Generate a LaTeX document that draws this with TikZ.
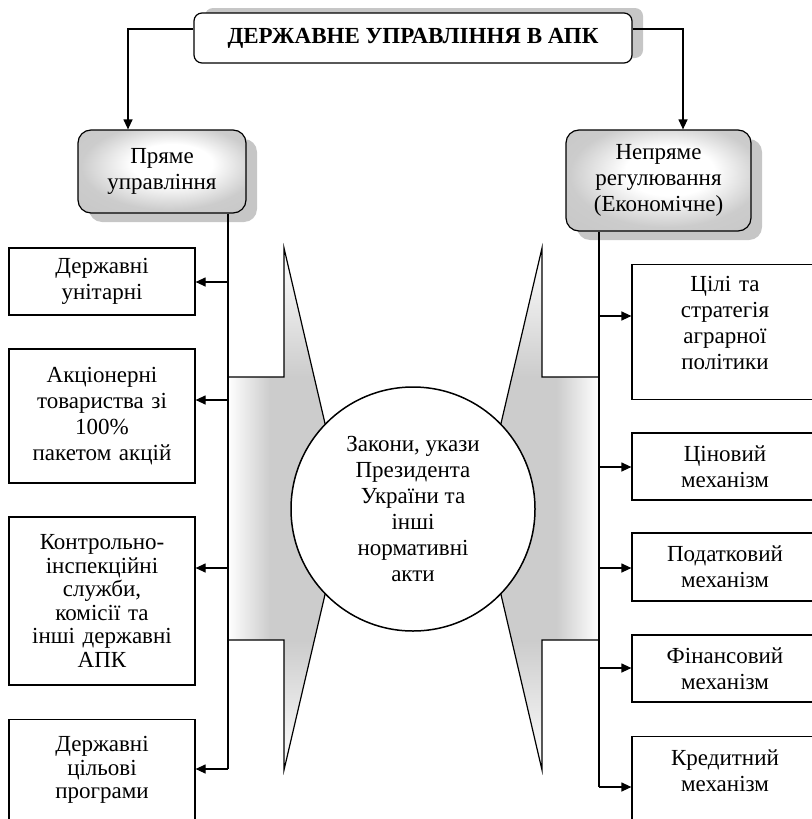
\documentclass[tikz,border=0pt]{standalone}
\usepackage{fontspec}
\setmainfont{Liberation Serif}
\usetikzlibrary{arrows.meta,shadows}

\pgfdeclarehorizontalshading{bandleft}{100bp}{color(0bp)=(white); color(25bp)=(white); color(43bp)=(gray!40); color(100bp)=(gray!40)}
\pgfdeclarehorizontalshading{bandright}{100bp}{color(0bp)=(gray!40); color(57bp)=(gray!40); color(75bp)=(white); color(100bp)=(white)}
\pgfdeclareradialshading{headshade}{\pgfpoint{4bp}{6bp}}{color(0bp)=(white); color(12bp)=(white); color(26bp)=(gray!40); color(50bp)=(gray!48)}

\tikzset{
  txt/.style={font=\fontsize{11.5}{13}\selectfont, align=center},
  tighttxt/.style={font=\fontsize{11.5}{11.8}\selectfont},
  leafbox/.style={txt, draw, fill=white, text width=85pt, inner xsep=4pt, inner ysep=2pt},
  headbox/.style={txt, draw, rounded corners=6.5pt, shading=headshade,
    drop shadow={shadow xshift=5.5pt, shadow yshift=-4.5pt, fill=gray!45, opacity=1}},
  titlebox/.style={draw, fill=white, rounded corners=4pt, font=\fontsize{11.5}{13}\selectfont\bfseries,
    minimum width=219pt, minimum height=25pt,
    drop shadow={shadow xshift=5.5pt, shadow yshift=2.5pt, fill=gray!45, opacity=1}},
  lawcircle/.style={txt, circle, draw, fill=white, line width=0.75pt, minimum size=122pt, inner sep=0pt},
  arr/.style={-{Triangle[length=5pt,width=4.5pt]}},
}

\begin{document}
\begin{tikzpicture}[x=0.5pt, y=-0.5pt, line width=0.6pt]
\useasboundingbox (0,0) rectangle (811,819);

% central shape, left half
\begin{scope}
\clip (228,377) -- (284,377) -- (284,248) -- (345,509) -- (284,770) -- (284,640) -- (228,640) -- cycle;
\shade[shading=bandleft] (228,377) rectangle (345,640);
\shade[top color=white, bottom color=gray!40] (284,248) rectangle (345,377);
\shade[top color=gray!40, bottom color=white] (284,640) rectangle (345,770);
\end{scope}
\draw (228,377) -- (284,377) -- (284,248) -- (345,509) -- (284,770) -- (284,640) -- (228,640);

% central shape, right half
\begin{scope}
\clip (599,377) -- (542,377) -- (542,248) -- (481,509) -- (542,770) -- (542,640) -- (599,640) -- cycle;
\shade[shading=bandright] (481,377) rectangle (599,640);
\shade[top color=white, bottom color=gray!40] (481,248) rectangle (542,377);
\shade[top color=gray!40, bottom color=white] (481,640) rectangle (542,770);
\end{scope}
\draw (599,377) -- (542,377) -- (542,248) -- (481,509) -- (542,770) -- (542,640) -- (599,640);

\node[lawcircle] (law) at (413,509) {Закони, укази\\Президента\\України та\\інші\\нормативні\\акти};

% title and the two branches
\node[titlebox] (apk) at (413,38) {ДЕРЖАВНЕ УПРАВЛІННЯ В АПК};
\node[headbox, minimum width=84pt, minimum height=41.5pt] (pr) at (162,171.5) {Пряме\\управління};
\node[headbox, minimum width=92.5pt, minimum height=50.5pt] (np) at (658.5,180.5) {Непряме\\регулювання\\(Економічне)};

% left boxes
\node[leafbox, minimum height=33.5pt] (l1) at (102,281.5) {Державні\\унітарні};
\node[leafbox, minimum height=67pt] (l2) at (102,416) {Акціонерні\\товариства зі\\100\%\\пакетом акцій};
\node[leafbox, tighttxt, minimum height=84pt] (l3) at (102,601) {Контрольно-\\інспекційні\\служби,\\комісії та\\інші державні\\АПК};
\node[leafbox, tighttxt, anchor=north, inner ysep=8.4pt, text depth=50pt] (l4) at (102,719) {Державні\\цільові\\програми};

% right boxes
\node[leafbox, anchor=north, inner ysep=6pt, text depth=47.8pt] (r1) at (725,264) {Цілі та\\стратегія\\аграрної\\політики};
\node[leafbox, minimum height=33.5pt] (r2) at (725,466.5) {Ціновий\\механізм};
\node[leafbox, minimum height=34pt] (r3) at (725,567) {Податковий\\механізм};
\node[leafbox, minimum height=33.5pt] (r4) at (725,668.5) {Фінансовий\\механізм};
\node[leafbox, anchor=north, inner ysep=6.6pt, text depth=50pt] (r5) at (725,736) {Кредитний\\механізм};

% connectors
\draw[arr] ([yshift=4.5pt]apk.west) -| ([xshift=-17pt]pr.north);
\draw[arr] ([yshift=4.5pt]apk.east) -| ([xshift=12.25pt]np.north);

\coordinate (ls1) at (228,282);
\coordinate (ls2) at (228,400);
\coordinate (ls3) at (228,568);
\coordinate (ls4) at (228,769);
\draw (pr.south -| ls1) -- (ls4);
\draw[arr] (ls1) -- (ls1 -| l1.east);
\draw[arr] (ls2) -- (ls2 -| l2.east);
\draw[arr] (ls3) -- (ls3 -| l3.east);
\draw[arr] (ls4) -- (ls4 -| l4.east);

\coordinate (rs1) at (599,316);
\coordinate (rs2) at (599,467);
\coordinate (rs3) at (599,568);
\coordinate (rs4) at (599,668);
\coordinate (rs5) at (599,787);
\draw (np.south -| rs1) -- (rs5);
\draw[arr] (rs1) -- (rs1 -| r1.west);
\draw[arr] (rs2) -- (rs2 -| r2.west);
\draw[arr] (rs3) -- (rs3 -| r3.west);
\draw[arr] (rs4) -- (rs4 -| r4.west);
\draw[arr] (rs5) -- (rs5 -| r5.west);
\end{tikzpicture}
\end{document}
